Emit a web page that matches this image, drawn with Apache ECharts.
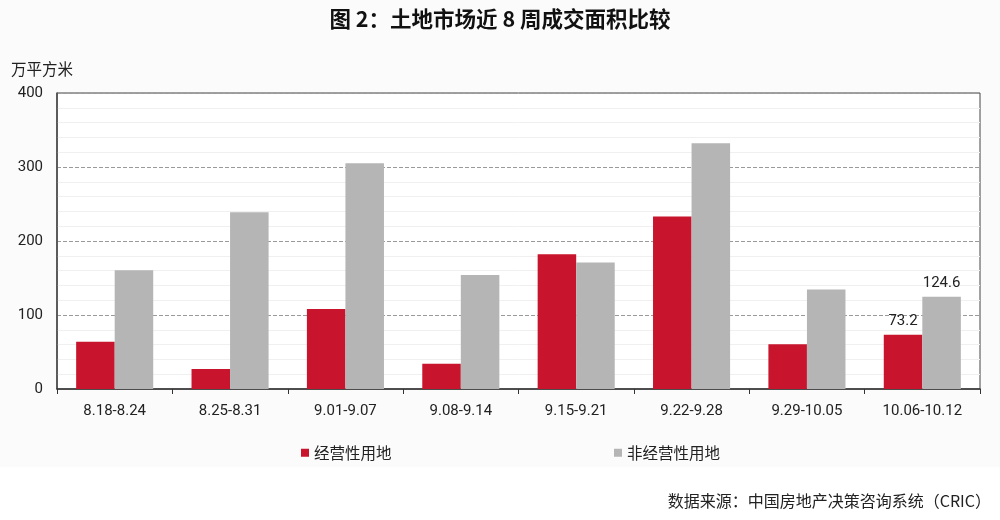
<!DOCTYPE html>
<html><head><meta charset="utf-8">
<script src="https://cdn.jsdelivr.net/npm/echarts@6/dist/echarts.min.js"></script>
<style>html,body{margin:0;padding:0;background:#fff}#c{width:1000px;height:520px}</style>
</head><body><div id="c"></div>
<script>
var categories = ['8.18-8.24','8.25-8.31','9.01-9.07','9.08-9.14','9.15-9.21','9.22-9.28','9.29-10.05','10.06-10.12'];
var commercial = [64, 27, 108, 34, 182, 233, 60.4, 73.2];
var nonCommercial = [160.4, 239, 305, 154, 171, 332, 134.3, 124.6];
var yTicks = [0, 100, 200, 300, 400];
var seriesNames = ['经营性用地', '非经营性用地'];

var font = '"Noto Sans CJK SC", "Noto Sans", sans-serif';
var chart = echarts.init(document.getElementById('c'), null, {renderer: 'canvas'});
var lastIdx = categories.length - 1;
function labelled(arr) {
  return arr.map(function (v, i) {
    return i === lastIdx ? {value: v, label: {show: true}} : v;
  });
}
chart.setOption({
  backgroundColor: '#ffffff',
  animation: false,
  textStyle: {fontFamily: font},
  graphic: [{type: 'rect', z: -10, shape: {x: 0, y: 0, width: 1000, height: 467}, style: {fill: '#fbfbfb'}}],
  title: [{
    text: '图 2：土地市场近 8 周成交面积比较', left: 'center', top: 3,
    textStyle: {fontSize: 21.5, fontWeight: 'bold', color: '#111', fontFamily: font}
  }, {
    text: '数据来源：中国房地产决策咨询系统（CRIC）', right: 4, top: 488,
    textStyle: {fontSize: 16, fontWeight: 'normal', color: '#222', fontFamily: font}
  }, {
    text: '万平方米', left: 6, top: 56,
    textStyle: {fontSize: 15.5, fontWeight: 'normal', color: '#222', fontFamily: font}
  }],
  legend: [{
    data: [seriesNames[0]], left: 296, top: 440, icon: 'rect', itemWidth: 8, itemHeight: 8, itemGap: 4,
    textStyle: {fontSize: 15.5, color: '#222', fontFamily: font, padding: [6, 0, 0, 0]}
  }, {
    data: [seriesNames[1]], left: 609, top: 440, icon: 'rect', itemWidth: 8, itemHeight: 8, itemGap: 4,
    textStyle: {fontSize: 15.5, color: '#222', fontFamily: font, padding: [6, 0, 0, 0]}
  }],
  grid: {left: 57, right: 20, top: 93, bottom: 131, show: true, borderColor: '#444', borderWidth: 1, backgroundColor: '#ffffff'},
  xAxis: {
    type: 'category', data: categories,
    axisLine: {lineStyle: {color: '#333', width: 1.5}},
    axisTick: {show: true, length: 5, alignWithLabel: false, lineStyle: {color: '#333'}},
    axisLabel: {fontSize: 15, color: '#222', margin: 15, fontFamily: 'Roboto, "Noto Sans", sans-serif'}
  },
  yAxis: {
    type: 'value', min: yTicks[0], max: yTicks[yTicks.length - 1], interval: 100,
    axisLine: {show: true, lineStyle: {color: '#444', width: 1.5}},
    axisTick: {show: false},
    axisLabel: {fontSize: 15, color: '#222', margin: 14, fontFamily: 'Roboto, "Noto Sans", sans-serif'},
    splitLine: {show: true, lineStyle: {color: '#9a9a9a', type: [4, 2], width: 1}},
    minorTick: {show: false, splitNumber: 5},
    minorSplitLine: {show: true, lineStyle: {color: '#f0f0f0', width: 1}}
  },
  series: [{
    name: seriesNames[0], type: 'bar', data: labelled(commercial),
    barWidth: '33.4%', barGap: '0%',
    itemStyle: {color: '#c8152d'},
    label: {show: false, position: 'top', distance: 6, fontSize: 15, color: '#222', fontFamily: 'Roboto, sans-serif'}
  }, {
    name: seriesNames[1], type: 'bar', data: labelled(nonCommercial),
    barWidth: '33.4%', barGap: '0%',
    itemStyle: {color: '#b5b5b5'},
    label: {show: false, position: 'top', distance: 6, fontSize: 15, color: '#222', fontFamily: 'Roboto, sans-serif'}
  }]
});
</script></body></html>
